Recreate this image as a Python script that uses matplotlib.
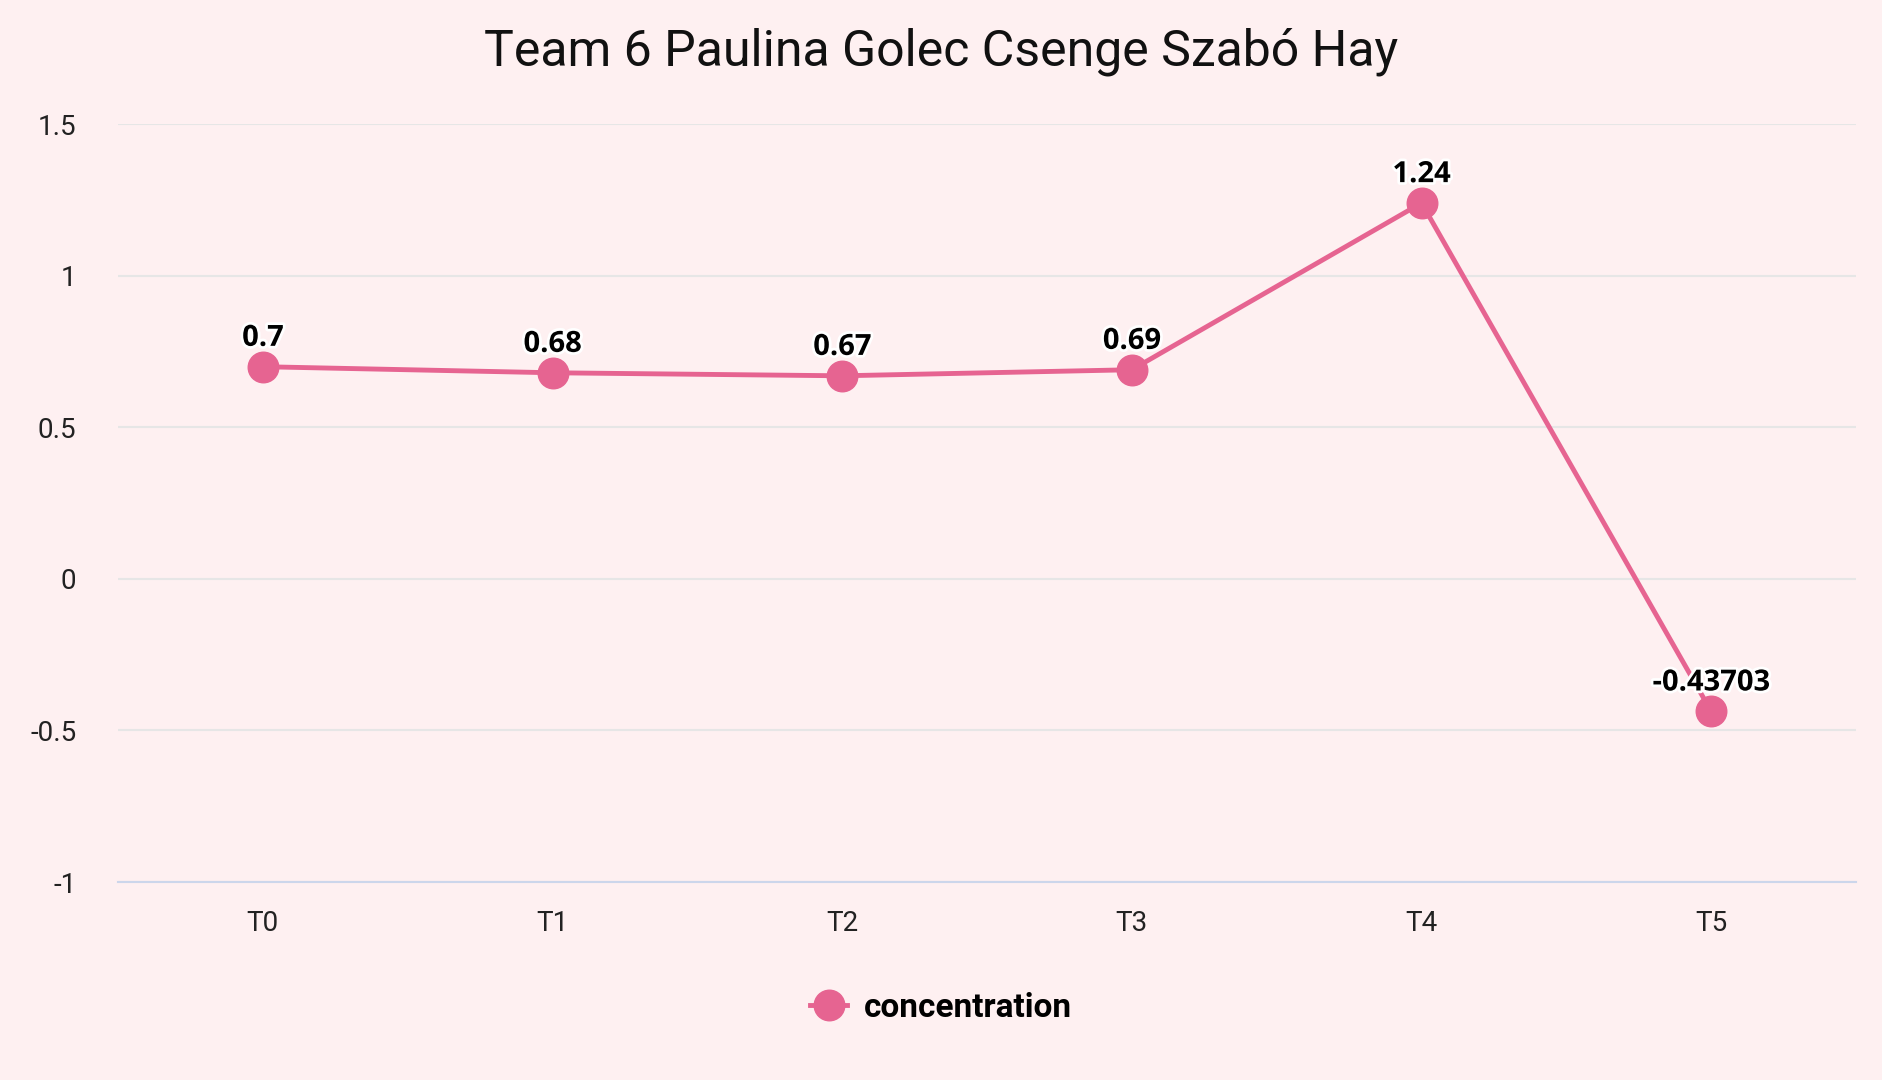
import matplotlib
matplotlib.use("Agg")
import matplotlib.pyplot as plt
import matplotlib.patheffects as pe
from matplotlib.lines import Line2D

# datos
categorias = ["T0", "T1", "T2", "T3", "T4", "T5"]
concentracion = [0.7, 0.68, 0.67, 0.69, 1.24, -0.43703]
etiquetas = ["0.7", "0.68", "0.67", "0.69", "1.24", "-0.43703"]
yticks = [-1, -0.5, 0, 0.5, 1, 1.5]
ytick_labels = ["-1", "-0.5", "0", "0.5", "1", "1.5"]

fondo = "#fef0f1"
rosa = "#e66491"

plt.rcParams["font.family"] = ["Roboto", "DejaVu Sans"]

fig = plt.figure(figsize=(18.82, 10.80), dpi=100, facecolor=fondo)
ax = fig.add_axes([0.0627, 0.1833, 0.9235, 0.7017])
ax.set_facecolor(fondo)

x = list(range(len(categorias)))
ax.plot(x, concentracion, color=rosa, lw=3.5, marker="o", ms=22,
        markerfacecolor=rosa, markeredgecolor=rosa, zorder=3)

for xi, yi, txt in zip(x, concentracion, etiquetas):
    ax.annotate(txt, (xi, yi), xytext=(0, 10), textcoords="offset points",
                ha="center", va="bottom", fontsize=21, fontweight="bold",
                family=["Open Sans", "DejaVu Sans"], color="black", zorder=5,
                path_effects=[pe.withStroke(linewidth=4, foreground="white")])

ax.set_xlim(-0.5, 5.5)
ax.set_ylim(-1, 1.5)
ax.set_xticks(x)
ax.set_xticklabels(categorias)
ax.set_yticks(yticks)
ax.set_yticklabels(ytick_labels)
ax.tick_params(axis="both", length=0, labelsize=20, colors="#222222")
ax.tick_params(axis="y", pad=30)
ax.tick_params(axis="x", pad=20)

ax.grid(axis="y", color="#e6e6e6", lw=1.5)
ax.set_axisbelow(True)
for s in ["top", "right", "left"]:
    ax.spines[s].set_visible(False)
ax.spines["bottom"].set_color("#ccd6eb")
ax.spines["bottom"].set_linewidth(1.5)

fig.suptitle("Team 6 Paulina Golec Csenge Szabó Hay", y=0.975, fontsize=36,
             color="#111111")

handle = Line2D([], [], color=rosa, lw=3.5, marker="o", ms=22)
leg = fig.legend([handle], ["concentration"], loc="center",
                 bbox_to_anchor=(0.5, 0.067), frameon=False,
                 prop={"weight": "bold", "size": 24}, handlelength=1.1,
                 handletextpad=0.5)

fig.savefig("out.png", dpi=100, facecolor=fondo)
